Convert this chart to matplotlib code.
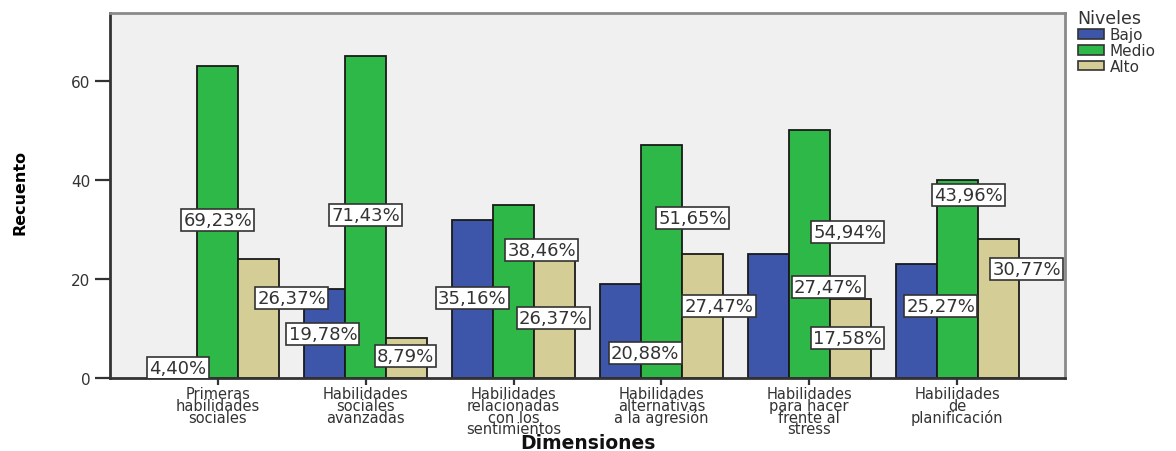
import matplotlib
matplotlib.use("Agg")
import matplotlib.pyplot as plt
from matplotlib.patches import Patch
import numpy as np

# Dimensions (x categories) and levels (series)
dimensiones = [
    "Primeras\nhabilidades\nsociales",
    "Habilidades\nsociales\navanzadas",
    "Habilidades\nrelacionadas\ncon los\nsentimientos",
    "Habilidades\nalternativas\na la agresión",
    "Habilidades\npara hacer\nfrente al\nstress",
    "Habilidades\nde\nplanificación",
]
niveles = ["Bajo", "Medio", "Alto"]

# Counts per level (n = 91)
bajo = [4, 18, 32, 19, 25, 23]
medio = [63, 65, 35, 47, 50, 40]
alto = [24, 8, 24, 25, 16, 28]

# Percentage labels per level
pct_bajo = ["4,40%", "19,78%", "35,16%", "20,88%", "27,47%", "25,27%"]
pct_medio = ["69,23%", "71,43%", "38,46%", "51,65%", "54,94%", "43,96%"]
pct_alto = ["26,37%", "8,79%", "26,37%", "27,47%", "17,58%", "30,77%"]

y_ticks = [0, 20, 40, 60]

# Label placement: (x offset from group centre, y in count units)
pos_bajo = [(-0.27, 2.0), (-0.29, 8.9), (-0.28, 16.2), (-0.11, 5.1), (0.13, 18.4), (-0.11, 14.5)]
pos_medio = [(0.0, 31.9), (0.0, 32.9), (0.19, 25.9), (0.21, 32.3), (0.26, 29.5), (0.08, 37.0)]
pos_alto = [(0.5, 16.2), (0.27, 4.4), (0.27, 12.1), (0.39, 14.5), (0.26, 8.1), (0.47, 22.0)]

colors = ["#3D56A9", "#2EB848", "#D4CD96"]

fig = plt.figure(figsize=(11.76, 4.52), dpi=100)
ax = fig.add_axes([110 / 1176, 1 - 379 / 452, (1065 - 110) / 1176, (379 - 14) / 452])
ax.set_facecolor("#F0F0F0")

x = np.arange(len(dimensiones))
w = 0.277
series = [bajo, medio, alto]
for i, (vals, c) in enumerate(zip(series, colors)):
    ax.bar(x + (i - 1) * w, vals, width=w, color=c, edgecolor="#1a1a1a",
           linewidth=1.3, zorder=2)

box = dict(boxstyle="square,pad=0.12", fc="white", ec="#333333", lw=1.2)
for labels, pos in [(pct_bajo, pos_bajo), (pct_medio, pos_medio), (pct_alto, pos_alto)]:
    for k, (lab, (dx, yy)) in enumerate(zip(labels, pos)):
        ax.text(x[k] + dx, yy, lab, ha="center", va="center", fontsize=13,
                color="#333333", bbox=box, zorder=5, clip_on=True,
                family="DejaVu Sans")

ax.set_xlim(-0.73, 5.73)
ax.set_ylim(0, 73.7)
ax.set_yticks(y_ticks)
ax.set_yticklabels([str(t) for t in y_ticks], fontsize=11, color="#333333")
ax.set_xticks(x)
ax.set_xticklabels(dimensiones, fontsize=10.5, color="#333333", linespacing=0.72)
ax.tick_params(axis="y", length=11, width=1.6, color="#333333", pad=3)
ax.tick_params(axis="x", length=5, width=1.6, color="#333333", pad=1)

for side in ["top", "right"]:
    ax.spines[side].set_color("#8a8a8a")
    ax.spines[side].set_linewidth(2)
for side in ["left", "bottom"]:
    ax.spines[side].set_color("#333333")
    ax.spines[side].set_linewidth(2)

ax.set_ylabel("Recuento", fontsize=11.5, fontweight="bold", va="center",
              family=["Liberation Sans Narrow", "DejaVu Sans"])
ax.yaxis.set_label_coords(-0.094, 0.51)
ax.set_xlabel("Dimensiones", fontsize=13.5, fontweight="bold", color="#111111",
              va="center")
ax.xaxis.set_label_coords(0.5, -0.177)

handles = [Patch(facecolor=c, edgecolor="#333333", lw=1.2) for c in colors]
leg = fig.legend(handles, niveles, title="Niveles", loc="upper left",
                 bbox_to_anchor=(1076 / 1176, 1 - 8 / 452), frameon=False,
                 fontsize=11, title_fontsize=12.5, handlelength=1.7,
                 handleheight=0.6, labelspacing=0.05, handletextpad=0.4,
                 borderpad=0.1, borderaxespad=0)
leg._legend_box.align = "left"
for t in leg.get_texts():
    t.set_color("#333333")
leg.get_title().set_color("#333333")

fig.savefig("out.png", dpi=100)
